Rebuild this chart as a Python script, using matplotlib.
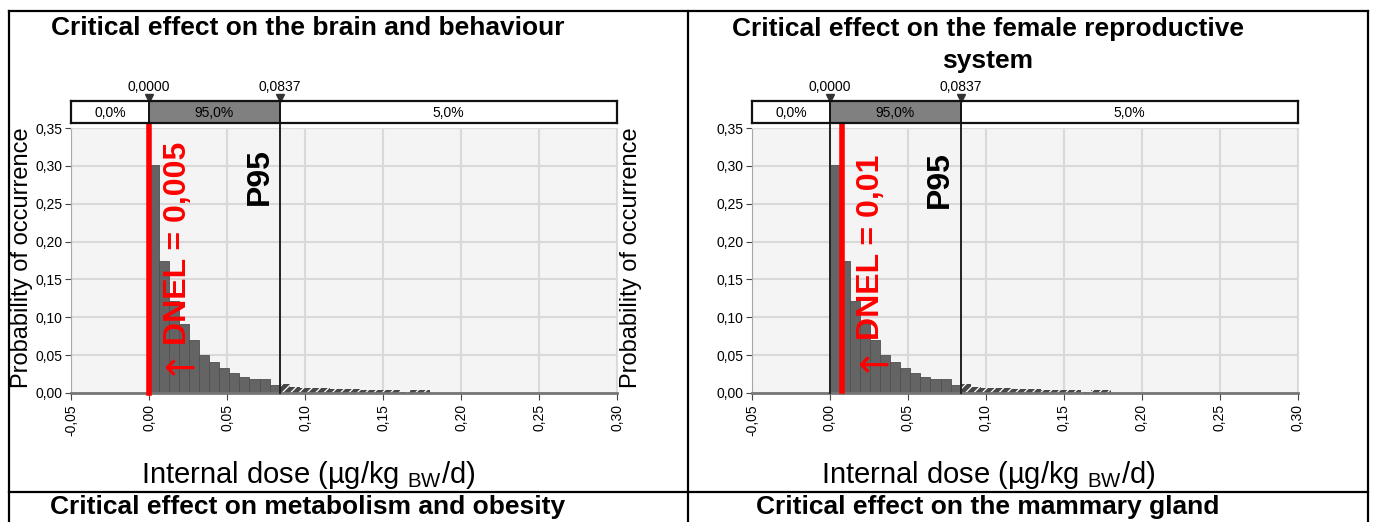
import numpy as np
import matplotlib
matplotlib.use("Agg")
import matplotlib.pyplot as plt
from matplotlib.lines import Line2D
from matplotlib.ticker import FuncFormatter

# ---- data ----
titles = ["Critical effect on the brain and behaviour",
          "Critical effect on the female reproductive\nsystem"]
bottom_titles = ["Critical effect on metabolism and obesity",
                 "Critical effect on the mammary gland"]
dnel_labels = ["DNEL = 0,005", "DNEL = 0,01"]
dnel_line_x = [0.0003, 0.0075]      # where the red line sits in the picture
dnel_line_ymin = [0.0, 0.006]
bin_start = 0.0
bin_width = 0.00644
prob_in = [0.301, 0.174, 0.121, 0.091, 0.070, 0.050, 0.041, 0.033,
           0.027, 0.021, 0.019, 0.018, 0.011]          # bins up to P95
prob_tail = [0.0115, 0.008, 0.007, 0.007, 0.006, 0.005, 0.005, 0.005,
             0.004, 0.004, 0.004, 0.004, 0.001, 0.004, 0.004]
p_low, p_high = 0.0, 0.0837
band_labels = ["0,0%", "95,0%", "5,0%"]
marker_labels = ["0,0000", "0,0837"]
x_ticks = [-0.05, 0.0, 0.05, 0.10, 0.15, 0.20, 0.25, 0.30]
y_ticks = [0.0, 0.05, 0.10, 0.15, 0.20, 0.25, 0.30, 0.35]
xlim = (-0.05, 0.30)
ylim = (0.0, 0.35)

W, H = 1375, 522
plt.rcParams["hatch.color"] = "white"
plt.rcParams["hatch.linewidth"] = 0.9
fig = plt.figure(figsize=(W / 100, H / 100), dpi=100)
fig.patch.set_facecolor("white")

SANS = ["Liberation Sans", "DejaVu Sans"]


def fx(x):
    return x / W


def fy(y):
    return 1 - y / H


def ptext(x, y, s, **kw):
    fig.text(fx(x), fy(y), s, **kw)


comma = FuncFormatter(lambda v, p: f"{v:.2f}".replace(".", ","))

panels = [dict(x0=71, dnel_x=178, dnel_y=345, arrow=(179, 369), p95=(260, 205),
               title=(308, 28), xlab=(308, 475), ylab=(22, 258)),
          dict(x0=752, dnel_x=871, dnel_y=340, arrow=(873, 366), p95=(940, 208),
               title=(988, 45), xlab=(988, 475), ylab=(631, 258))]

for i, pn in enumerate(panels):
    x0 = pn["x0"]
    x1 = x0 + 546
    ax = fig.add_axes([fx(x0), fy(393), (x1 - x0) / W, (393 - 128) / H])
    ax.set_facecolor("#f4f4f4")
    ax.set_xlim(*xlim)
    ax.set_ylim(*ylim)
    ax.set_xticks(x_ticks)
    ax.set_yticks(y_ticks)
    ax.xaxis.set_major_formatter(comma)
    ax.yaxis.set_major_formatter(comma)
    for lab in ax.get_xticklabels() + ax.get_yticklabels():
        lab.set_family(SANS)
        lab.set_fontsize(10)
    ax.tick_params(axis="x", rotation=90, length=5, color="#444", pad=3)
    ax.tick_params(axis="y", length=4, color="#444", pad=2)
    ax.grid(True, color="#d9d9d9", lw=1.5)
    ax.set_axisbelow(True)
    ax.spines["left"].set_color("#a8a8a8")
    ax.spines["bottom"].set_color("#777777")
    ax.spines["bottom"].set_linewidth(2)
    ax.spines["top"].set_color("#dddddd")
    ax.spines["right"].set_color("#dddddd")

    n_in = len(prob_in)
    left_in = bin_start + bin_width * np.arange(n_in)
    left_tail = bin_start + bin_width * np.arange(n_in, n_in + len(prob_tail))
    ax.bar(left_in, prob_in, width=bin_width, align="edge",
           color="#646464", edgecolor="#505050", lw=0.6, zorder=2)
    ax.bar(left_tail, prob_tail, width=bin_width, align="edge",
           facecolor="#474747", edgecolor="white", hatch="////", lw=0, zorder=2)

    # delimiters
    for v in (p_low, p_high):
        ax.axvline(v, ymin=0, ymax=1.02, color="#222", lw=1.4, clip_on=False, zorder=3)
    ax.axvline(dnel_line_x[i], ymin=dnel_line_ymin[i], ymax=1.02, color="#ff0000",
               lw=4, clip_on=False, zorder=4)

    # percentile band
    bx = fig.add_axes([fx(x0), fy(123), (x1 - x0) / W, 22 / H])
    bx.set_xlim(*xlim)
    bx.set_ylim(0, 1)
    bx.set_xticks([])
    bx.set_yticks([])
    bx.axvspan(p_low, p_high, color="#808080", lw=0)
    for v in (p_low, p_high):
        bx.axvline(v, color="#111", lw=1.4)
    for s in bx.spines.values():
        s.set_linewidth(1.6)
        s.set_color("#111")
    seg_mid = [(xlim[0] + p_low) / 2, (p_low + p_high) / 2, (p_high + xlim[1]) / 2]
    for m, s in zip(seg_mid, band_labels):
        bx.text(m, 0.45, s, ha="center", va="center", fontsize=10, family=SANS)
    for v, s in zip((p_low, p_high), marker_labels):
        bx.plot([v], [1.12], marker="v", ms=6, color="#333", clip_on=False)
        bx.text(v, 1.3, s, ha="center", va="bottom", fontsize=10, family=SANS)

    # annotations
    ptext(pn["dnel_x"], pn["dnel_y"], dnel_labels[i], rotation=90, ha="center",
          va="bottom", color="#ff0000", fontsize=23, fontweight="bold", family=SANS)
    ptext(*pn["arrow"], "\u2190", ha="center", va="center", color="#ff0000",
          fontsize=28, family=["DejaVu Sans"])
    ptext(*pn["p95"], "P95", rotation=90, ha="center", va="bottom", color="black",
          fontsize=23, fontweight="bold", family=SANS)
    ptext(*pn["title"], titles[i], ha="center", va="center", fontsize=19,
          fontweight="bold", family=SANS, linespacing=1.4)
    ptext(*pn["xlab"], r"Internal dose (µg/kg $_{\mathregular{BW}}$/d)", ha="center",
          va="center", fontsize=21, family=SANS)
    ptext(*pn["ylab"], "Probability of occurrence", rotation=90, ha="center",
          va="center", fontsize=17, family=SANS)
    ptext(pn["title"][0], 507, bottom_titles[i], ha="center", va="center",
          fontsize=19, fontweight="bold", family=SANS)

# table borders
for xs, ys in [((9, 9), (11, 522)), ((1368, 1368), (11, 522)), ((688, 688), (11, 522)),
               ((9, 1368), (11, 11)), ((9, 1368), (492, 492))]:
    fig.add_artist(Line2D([fx(xs[0]), fx(xs[1])], [fy(ys[0]), fy(ys[1])],
                          color="black", lw=1.6))

fig.savefig("out.png", dpi=100)
